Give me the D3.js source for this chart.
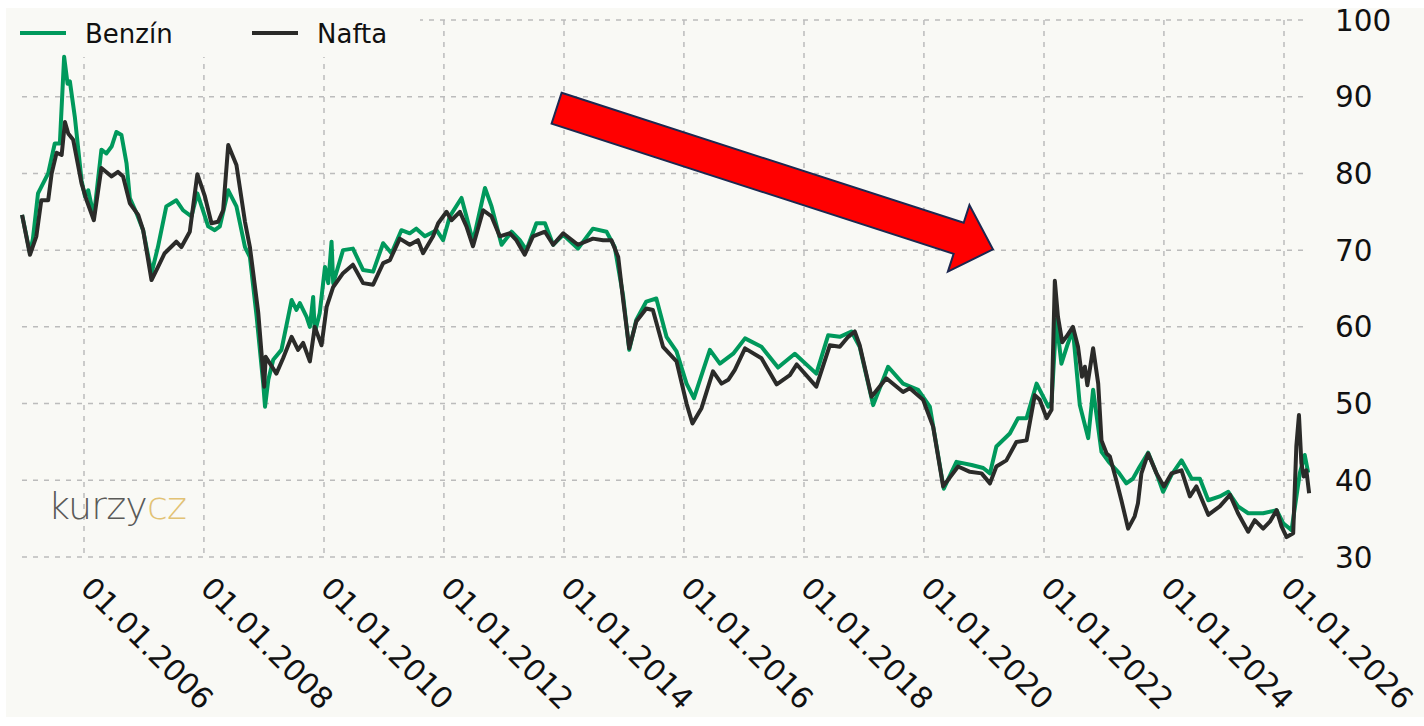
<!DOCTYPE html>
<html>
<head>
<meta charset="utf-8">
<script src="https://cdn.jsdelivr.net/npm/d3@7"></script>
<style>
  body { margin: 0; background: #fff; }
  svg { display: block; }
  text { font-family: "DejaVu Sans", Verdana, sans-serif; }
</style>
</head>
<body>
<svg id="chart" width="1424" height="726"></svg>
<script>
// price series: [date, value]
const benzinSeries = [
  ['2004-12-20', 74.6], ['2005-02-06', 69.6], ['2005-02-24', 71.5], ['2005-03-27', 77.4],
  ['2005-04-27', 78.7], ['2005-05-28', 80.0], ['2005-07-07', 83.9], ['2005-08-07', 83.9],
  ['2005-09-02', 95.2], ['2005-09-23', 91.7], ['2005-10-07', 92.0], ['2005-11-06', 87.4],
  ['2005-12-17', 79.1], ['2006-01-07', 77.0], ['2006-01-27', 77.8], ['2006-03-02', 74.4],
  ['2006-04-17', 83.1], ['2006-05-17', 82.6], ['2006-06-18', 83.5], ['2006-07-17', 85.4],
  ['2006-08-17', 85.0], ['2006-09-17', 81.3], ['2006-10-07', 76.8], ['2006-11-17', 74.8],
  ['2006-12-27', 72.6], ['2007-02-16', 67.0], ['2007-03-27', 70.4], ['2007-05-17', 75.7],
  ['2007-07-17', 76.5], ['2007-08-27', 75.2], ['2007-10-17', 74.4], ['2007-11-22', 77.4],
  ['2008-01-27', 73.1], ['2008-03-07', 72.6], ['2008-04-07', 73.1], ['2008-05-28', 77.8],
  ['2008-07-17', 75.7], ['2008-09-07', 70.4], ['2008-10-07', 69.1], ['2008-11-17', 61.3],
  ['2008-12-27', 52.6], ['2009-01-07', 49.6], ['2009-01-27', 53.1], ['2009-02-26', 55.7],
  ['2009-04-17', 57.0], ['2009-06-18', 63.5], ['2009-07-17', 62.2], ['2009-08-07', 63.1],
  ['2009-09-17', 61.3], ['2009-10-07', 60.0], ['2009-10-27', 63.9], ['2009-11-06', 59.2],
  ['2009-12-06', 61.8], ['2010-01-07', 67.8], ['2010-01-27', 65.7], ['2010-02-16', 71.1],
  ['2010-02-26', 65.7], ['2010-04-27', 70.0], ['2010-06-26', 70.2], ['2010-08-27', 67.4],
  ['2010-10-27', 67.2], ['2010-12-27', 70.9], ['2011-02-16', 69.6], ['2011-04-17', 72.6],
  ['2011-06-07', 72.2], ['2011-07-17', 72.8], ['2011-09-07', 71.8], ['2011-11-17', 72.6],
  ['2011-12-27', 71.3], ['2012-02-06', 74.4], ['2012-04-17', 76.8], ['2012-05-17', 74.4],
  ['2012-06-26', 71.1], ['2012-09-07', 78.1], ['2012-10-17', 75.7], ['2012-12-17', 70.7],
  ['2013-02-16', 72.4], ['2013-04-07', 71.3], ['2013-05-17', 70.0], ['2013-07-17', 73.5],
  ['2013-09-07', 73.5], ['2013-10-27', 70.7], ['2013-12-27', 72.0], ['2014-03-27', 70.2],
  ['2014-06-26', 72.8], ['2014-09-17', 72.4], ['2014-11-06', 70.4], ['2014-12-27', 64.0],
  ['2015-02-02', 57.0], ['2015-03-17', 60.9], ['2015-05-17', 63.3], ['2015-07-17', 63.7],
  ['2015-09-17', 58.7], ['2015-11-17', 56.8], ['2016-01-17', 52.6], ['2016-03-02', 50.7],
  ['2016-06-07', 57.0], ['2016-08-07', 55.2], ['2016-10-27', 56.5], ['2017-01-07', 58.5],
  ['2017-04-17', 57.4], ['2017-07-27', 54.7], ['2017-11-06', 56.5], ['2018-03-17', 53.9],
  ['2018-05-28', 58.9], ['2018-08-07', 58.7], ['2018-10-17', 59.4], ['2018-12-06', 57.4],
  ['2019-02-26', 49.8], ['2019-05-28', 54.8], ['2019-08-27', 52.6], ['2019-11-27', 51.8],
  ['2020-02-06', 49.6], ['2020-05-01', 38.9], ['2020-07-17', 42.4], ['2020-10-17', 42.0],
  ['2020-12-27', 41.6], ['2021-02-06', 40.9], ['2021-03-17', 44.4], ['2021-06-07', 46.1],
  ['2021-07-27', 48.1], ['2021-09-17', 48.1], ['2021-11-17', 52.6], ['2022-01-27', 49.6],
  ['2022-02-16', 50.2], ['2022-03-17', 61.0], ['2022-04-17', 55.2], ['2022-05-26', 57.8],
  ['2022-06-26', 59.6], ['2022-08-07', 49.8], ['2022-09-27', 45.5], ['2022-10-27', 51.8],
  ['2022-12-17', 43.7], ['2023-01-30', 42.4], ['2023-04-01', 41.0], ['2023-05-17', 39.6],
  ['2023-06-26', 40.2], ['2023-08-07', 41.8], ['2023-09-27', 43.6], ['2023-11-17', 40.9],
  ['2023-12-27', 38.5], ['2024-02-16', 40.7], ['2024-04-17', 42.6], ['2024-06-18', 40.2],
  ['2024-08-07', 40.2], ['2024-09-27', 37.4], ['2024-12-06', 37.9], ['2025-01-27', 38.5],
  ['2025-03-27', 36.6], ['2025-05-28', 35.7], ['2025-08-27', 35.7], ['2025-11-17', 36.1],
  ['2025-12-27', 34.4], ['2026-02-16', 33.5], ['2026-04-07', 40.9], ['2026-05-07', 43.3],
  ['2026-05-28', 41.0]
];

const naftaSeries = [
  ['2004-12-20', 74.6], ['2005-02-06', 69.4], ['2005-03-17', 71.8], ['2005-04-16', 76.5],
  ['2005-05-28', 76.5], ['2005-06-18', 80.0], ['2005-07-18', 82.7], ['2005-08-18', 82.4],
  ['2005-09-07', 86.7], ['2005-09-27', 85.2], ['2005-10-27', 84.4], ['2005-12-17', 78.7],
  ['2006-01-17', 76.5], ['2006-03-02', 73.9], ['2006-04-17', 80.7], ['2006-06-18', 79.6],
  ['2006-07-27', 80.2], ['2006-08-27', 79.6], ['2006-10-07', 76.1], ['2006-11-27', 74.6],
  ['2006-12-27', 72.6], ['2007-02-16', 66.1], ['2007-03-27', 67.8], ['2007-05-07', 69.6],
  ['2007-07-17', 71.1], ['2007-08-17', 70.4], ['2007-10-07', 72.4], ['2007-11-22', 79.9],
  ['2008-01-07', 77.0], ['2008-02-16', 73.5], ['2008-03-27', 73.7], ['2008-04-27', 75.2],
  ['2008-05-28', 83.7], ['2008-07-17', 81.1], ['2008-09-07', 73.7], ['2008-10-07', 70.4],
  ['2008-11-27', 61.8], ['2009-01-02', 52.2], ['2009-01-11', 56.1], ['2009-03-17', 53.9],
  ['2009-04-27', 55.9], ['2009-06-18', 58.7], ['2009-07-27', 57.0], ['2009-08-27', 57.9],
  ['2009-10-07', 55.5], ['2009-11-06', 60.0], ['2009-12-17', 57.6], ['2010-01-17', 62.6],
  ['2010-02-26', 65.2], ['2010-04-27', 67.0], ['2010-06-26', 68.1], ['2010-08-27', 65.7],
  ['2010-10-27', 65.5], ['2010-12-27', 68.3], ['2011-02-06', 68.7], ['2011-04-07', 71.5],
  ['2011-06-07', 70.7], ['2011-07-27', 71.3], ['2011-08-27', 69.6], ['2011-10-27', 71.8],
  ['2011-11-27', 73.5], ['2012-01-17', 75.0], ['2012-02-16', 73.9], ['2012-04-07', 75.0],
  ['2012-05-17', 73.1], ['2012-06-26', 70.5], ['2012-08-27', 75.2], ['2012-10-17', 74.4],
  ['2012-12-06', 71.8], ['2013-02-06', 72.2], ['2013-03-17', 71.3], ['2013-05-07', 69.4],
  ['2013-06-26', 71.8], ['2013-09-07', 72.4], ['2013-10-27', 70.7], ['2013-12-27', 72.2],
  ['2014-03-27', 70.7], ['2014-06-26', 71.5], ['2014-08-27', 71.3], ['2014-10-17', 71.3],
  ['2014-11-27', 69.1], ['2014-12-27', 63.5], ['2015-02-02', 57.2], ['2015-03-17', 60.7],
  ['2015-05-17', 62.4], ['2015-06-26', 62.2], ['2015-08-27', 57.4], ['2015-11-17', 55.5],
  ['2016-01-17', 50.0], ['2016-02-22', 47.4], ['2016-04-17', 49.4], ['2016-06-26', 54.2],
  ['2016-08-17', 52.6], ['2016-09-27', 53.1], ['2016-11-06', 54.4], ['2017-01-07', 57.2],
  ['2017-04-17', 55.9], ['2017-07-19', 52.5], ['2017-10-07', 53.7], ['2017-11-18', 55.1],
  ['2018-03-17', 52.2], ['2018-06-07', 57.6], ['2018-08-07', 57.4], ['2018-09-27', 58.7],
  ['2018-11-06', 59.4], ['2018-12-06', 57.6], ['2019-02-16', 50.9], ['2019-05-17', 53.3],
  ['2019-08-27', 51.5], ['2019-10-07', 52.0], ['2019-12-27', 50.5], ['2020-02-26', 47.0],
  ['2020-04-27', 39.2], ['2020-07-27', 41.8], ['2020-10-07', 41.1], ['2020-12-17', 40.9],
  ['2021-02-06', 39.6], ['2021-03-17', 41.8], ['2021-05-17', 42.6], ['2021-07-17', 45.0],
  ['2021-09-17', 45.2], ['2021-11-06', 51.1], ['2021-12-06', 50.5], ['2022-01-17', 48.1],
  ['2022-02-16', 49.2], ['2022-03-08', 66.0], ['2022-03-27', 61.3], ['2022-04-22', 58.0],
  ['2022-05-17', 58.7], ['2022-06-26', 60.0], ['2022-07-27', 57.4], ['2022-08-20', 53.5],
  ['2022-09-07', 54.8], ['2022-09-22', 52.4], ['2022-10-27', 57.2], ['2022-11-27', 52.6],
  ['2022-12-17', 45.2], ['2023-01-17', 43.5], ['2023-02-06', 43.1], ['2023-03-17', 40.0],
  ['2023-04-17', 37.4], ['2023-05-28', 33.7], ['2023-07-07', 35.3], ['2023-07-27', 37.0],
  ['2023-08-17', 40.9], ['2023-09-27', 43.5], ['2023-11-17', 40.9], ['2024-01-01', 39.2],
  ['2024-02-16', 40.9], ['2024-04-17', 41.3], ['2024-06-07', 37.9], ['2024-07-17', 39.2],
  ['2024-09-27', 35.5], ['2024-12-06', 36.6], ['2025-02-06', 38.1], ['2025-03-27', 35.7],
  ['2025-05-28', 33.3], ['2025-07-07', 34.8], ['2025-08-27', 33.7], ['2025-10-07', 34.6],
  ['2025-11-17', 36.1], ['2025-12-17', 34.0], ['2026-01-17', 32.6], ['2026-02-26', 33.1],
  ['2026-03-17', 44.4], ['2026-04-02', 48.5], ['2026-04-17', 42.2], ['2026-05-01', 40.5],
  ['2026-05-17', 41.3], ['2026-06-03', 38.3]
];

const seriesNames = ['Benzín', 'Nafta'];
const yTicks = [30, 40, 50, 60, 70, 80, 90, 100];
const xTickYears = [2006, 2008, 2010, 2012, 2014, 2016, 2018, 2020, 2022, 2024, 2026];
// the red trend arrow, tail and tip in [date, value]
const trendArrow = [['2013-11-17', 88.5], ['2021-02-24', 70.1]];

const colors = { 'Benzín': '#00995c', 'Nafta': '#2b2b29' };
const bgColor = '#f9f9f5';
const gridColor = '#bcbcbc';

const parseDate = d3.timeParse('%Y-%m-%d');
const svg = d3.select('#chart');

const x = d3.scaleTime()
  .domain([new Date(2006, 0, 1), new Date(2026, 0, 1)])
  .range([84, 1284]);

const y = d3.scaleLinear()
  .domain([30, 100])
  .range([557, 20]);

// background panel
svg.append('rect')
  .attr('x', 6).attr('y', 8)
  .attr('width', 1418).attr('height', 709)
  .attr('fill', bgColor);

// dashed grid
const grid = svg.append('g').attr('class', 'grid')
  .attr('stroke', gridColor)
  .attr('stroke-width', 1.5)
  .attr('stroke-dasharray', '5,6');

grid.selectAll('.h-line')
  .data(yTicks)
  .join('line')
    .attr('class', 'h-line')
    .attr('x1', 22).attr('x2', 1306)
    .attr('y1', (d) => y(d)).attr('y2', (d) => y(d));

grid.selectAll('.v-line')
  .data(xTickYears)
  .join('line')
    .attr('class', 'v-line')
    .attr('x1', (d) => x(new Date(d, 0, 1)))
    .attr('x2', (d) => x(new Date(d, 0, 1)))
    .attr('y1', y(100)).attr('y2', y(30));

// legend sits on its own patch of background, over the grid but under the lines
svg.append('rect')
  .attr('x', 6).attr('y', 8)
  .attr('width', 414).attr('height', 49)
  .attr('fill', bgColor);

// y labels on the right
svg.append('g').selectAll('text')
  .data(yTicks)
  .join('text')
    .attr('x', 1335)
    .attr('y', (d) => y(d))
    .attr('dy', '0.36em')
    .attr('font-size', 29.5)
    .attr('fill', '#111')
    .text((d) => d);

// rotated date labels
const formatTick = d3.timeFormat('%d.%m.%Y');
svg.append('g').selectAll('text')
  .data(xTickYears)
  .join('text')
    .attr('transform', (d) => `translate(${ x(new Date(d, 0, 1)) - 5 }, 590) rotate(45)`)
    .attr('font-size', 30)
    .attr('fill', '#111')
    .text((d) => formatTick(new Date(d, 0, 1)));

// logo
svg.append('text')
  .attr('x', 48).attr('y', 519)
  .attr('font-family', 'Lato, "Open Sans", sans-serif')
  .attr('font-weight', 300)
  .attr('font-size', 38)
  .attr('letter-spacing', -0.8)
  .call((t) => {
    t.append('tspan').attr('fill', '#5a5a58').text('kurzy');
    t.append('tspan').attr('fill', '#e2c274').text('cz');
  });

// lines
const line = d3.line()
  .x((d) => x(parseDate(d[0])))
  .y((d) => y(d[1]));

svg.append('g').selectAll('path')
  .data([benzinSeries, naftaSeries])
  .join('path')
    .attr('d', line)
    .attr('fill', 'none')
    .attr('stroke', (d, i) => colors[seriesNames[i]])
    .attr('stroke-width', 4)
    .attr('stroke-linejoin', 'round');

const legend = svg.append('g').selectAll('g')
  .data(seriesNames)
  .join('g')
    .attr('transform', (d, i) => `translate(${ 20 + i * 232 }, 33)`);

legend.append('line')
  .attr('x1', 0).attr('x2', 46)
  .attr('stroke', (d) => colors[d])
  .attr('stroke-width', 4);

legend.append('text')
  .attr('x', 65).attr('y', 10)
  .attr('font-size', 26)
  .attr('fill', '#111')
  .text((d) => d);

// trend arrow, built along the tail -> tip direction
const [p0, p1] = trendArrow.map((d) => [x(parseDate(d[0])), y(d[1])]);
const len = Math.hypot(p1[0] - p0[0], p1[1] - p0[1]);
const ux = (p1[0] - p0[0]) / len, uy = (p1[1] - p0[1]) / len;
const shaftHalf = 16.3, headHalf = 35, headLen = 36;
const pt = (a, b) => [p0[0] + ux * a - uy * b, p0[1] + uy * a + ux * b];
const arrowPts = [
  pt(0, -shaftHalf), pt(len - headLen, -shaftHalf), pt(len - headLen, -headHalf),
  pt(len, 0), pt(len - headLen, headHalf), pt(len - headLen, shaftHalf), pt(0, shaftHalf)
];

svg.append('polygon')
  .attr('points', arrowPts.map((p) => p.join(',')).join(' '))
  .attr('fill', '#ff0000')
  .attr('stroke', '#1c2850')
  .attr('stroke-width', 2)
  .attr('stroke-linejoin', 'miter');
</script>
</body>
</html>
